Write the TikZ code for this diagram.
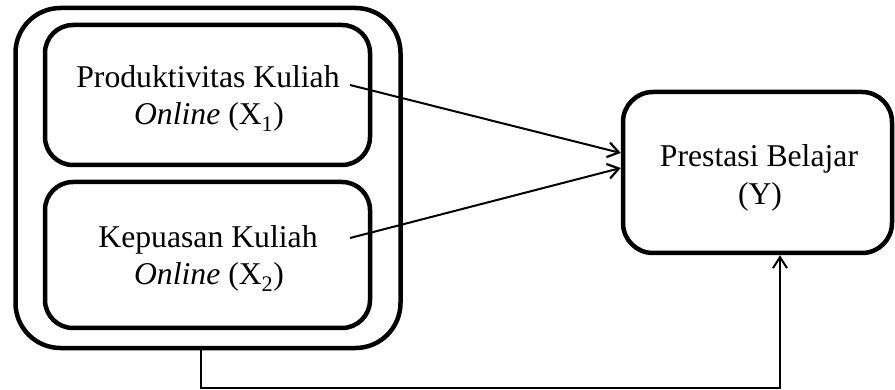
\documentclass[tikz,border=0pt]{standalone}
\usepackage{fontspec}
\setmainfont{Liberation Serif}[ItalicFont={Liberation Serif Italic}]
\usetikzlibrary{arrows.meta}
\begin{document}
\begin{tikzpicture}[x=1pt,y=-1pt,
  boxstyle/.style={draw=black,line width=4.5pt,rounded corners=#1},
  txt/.style={anchor=base,inner sep=0pt,font=\fontsize{31.7}{37}\selectfont},
  conn/.style={line width=2pt,-{Straight Barb[length=11pt,width=15pt,line width=2.2pt]}},
  thinconn/.style={line width=1.6pt,-{Straight Barb[length=11pt,width=14pt,line width=2pt]}}]
\useasboundingbox (0,0) rectangle (895,390);
% boxes
\node[boxstyle=45pt,minimum width=385pt,minimum height=340pt,inner sep=0pt] (outer) at (208,178) {};
\node[boxstyle=28pt,minimum width=325pt,minimum height=140pt,inner sep=0pt] (bx1) at (207.5,95) {};
\node[boxstyle=28pt,minimum width=325pt,minimum height=146pt,inner sep=0pt] (bx2) at (207.5,255) {};
\node[boxstyle=30pt,minimum width=269pt,minimum height=161pt,inner sep=0pt] (by) at (757.5,172.5) {};
% texts
\node[txt] (t1a) at (208,88) {Produktivitas Kuliah};
\node[txt] (t1b) at (209,125) {\textit{Online} (X\textsubscript{1})};
\node[txt] (t2a) at (208,248) {Kepuasan Kuliah};
\node[txt] (t2b) at (209,285) {\textit{Online} (X\textsubscript{2})};
\node[txt] (tya) at (759,167) {Prestasi Belajar};
\node[txt] (tyb) at (760,205) {(Y)};
% connectors
\coordinate (s1) at (350,85);
\coordinate (s2) at (350,238);
\coordinate (e1) at (by.west |- 0,153);
\coordinate (e2) at (by.west |- 0,168);
\draw[conn] (s1) -- (e1);
\draw[conn] (s2) -- (e2);
\coordinate (b0) at (outer.south -| 201,0);
\coordinate (b1) at (201,388);
\coordinate (b2) at (by.south -| 780,0);
\draw[thinconn] (b0) -- (b1) -| (b2);
\end{tikzpicture}
\end{document}
